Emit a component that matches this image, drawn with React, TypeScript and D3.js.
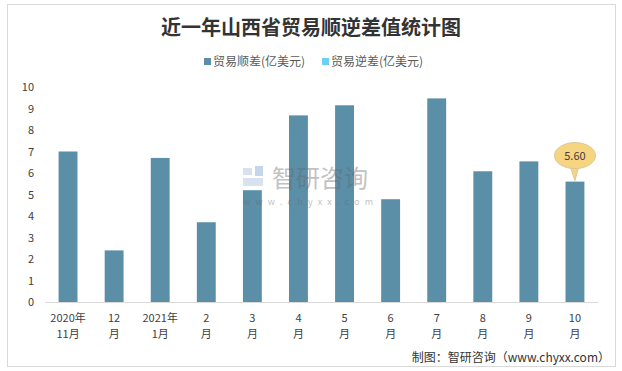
import React, { useEffect, useRef } from 'react';
import * as d3 from 'd3';

const months = ['2020年\n11月', '12\n月', '2021年\n1月', '2\n月', '3\n月', '4\n月', '5\n月', '6\n月', '7\n月', '8\n月', '9\n月', '10\n月'];
const surplus = [7.0, 2.4, 6.7, 3.71, 5.2, 8.68, 9.15, 4.78, 9.47, 6.08, 6.54, 5.6];
const yTicks = [0, 1, 2, 3, 4, 5, 6, 7, 8, 9, 10];
const legendItems = ['贸易顺差(亿美元)', '贸易逆差(亿美元)'];
const legendColors = ['#5B8FA8', '#6DCFF6'];

const FONT = '"Noto Sans CJK SC", "Noto Sans", sans-serif';

const App: React.FC = () => {
  const svgRef = useRef<SVGSVGElement>(null);

  useEffect(() => {
    if (!svgRef.current) return;
    const svg = d3.select(svgRef.current);
    svg.selectAll('*').remove();

    const width = 622;
    const height = 371;
    const margin = { top: 87, right: 24, bottom: 69, left: 45 };

    // frame
    svg.append('rect')
      .attr('x', 7.5).attr('y', 4.5)
      .attr('width', 608).attr('height', 362)
      .attr('fill', '#fff')
      .attr('stroke', '#d9d9d9');

    svg.append('text')
      .attr('x', 311).attr('y', 35)
      .attr('text-anchor', 'middle')
      .attr('font-family', FONT)
      .attr('font-weight', 'bold')
      .attr('font-size', 20)
      .attr('fill', '#333')
      .text('近一年山西省贸易顺逆差值统计图');

    // legend
    const legendX = [204, 322];
    legendItems.forEach((name, i) => {
      svg.append('rect')
        .attr('x', legendX[i]).attr('y', 58)
        .attr('width', 7).attr('height', 7)
        .attr('fill', legendColors[i]);
      svg.append('text')
        .attr('x', legendX[i] + 9).attr('y', 66)
        .attr('font-family', FONT)
        .attr('font-size', 12)
        .attr('fill', '#595959')
        .text(name);
    });

    const x = d3.scaleBand<number>()
      .domain(d3.range(months.length))
      .range([margin.left, width - margin.right])
      .paddingInner(0.59)
      .paddingOuter(0.295);

    const y = d3.scaleLinear()
      .domain([0, 10])
      .range([height - margin.bottom, margin.top]);

    svg.append('g')
      .selectAll('rect')
      .data(surplus)
      .join('rect')
      .attr('x', (_, i) => x(i)!)
      .attr('y', d => y(d))
      .attr('width', x.bandwidth())
      .attr('height', d => y(0) - y(d))
      .attr('fill', '#5B8FA8');

    // watermark, drawn over the bars
    const wm = svg.append('g').attr('opacity', 0.4);
    wm.append('rect').attr('x', 243).attr('y', 168).attr('width', 9).attr('height', 7).attr('fill', '#9fb8d6');
    wm.append('rect').attr('x', 243).attr('y', 178).attr('width', 20).attr('height', 8).attr('fill', '#9fb8d6');
    wm.append('rect').attr('x', 255).attr('y', 166).attr('width', 8).attr('height', 10).attr('fill', '#6f9acb');
    wm.append('text')
      .attr('x', 272).attr('y', 187)
      .attr('font-family', FONT)
      .attr('font-size', 24)
      .attr('fill', '#666')
      .text('智研咨询');
    wm.append('text')
      .attr('x', 243).attr('y', 205)
      .attr('font-family', FONT)
      .attr('font-size', 9)
      .attr('letter-spacing', 5.2)
      .attr('fill', '#666')
      .text('www.chyxx.com');

    // x axis line
    svg.append('line')
      .attr('x1', margin.left).attr('x2', width - margin.right + 0.5)
      .attr('y1', y(0) + 0.5).attr('y2', y(0) + 0.5)
      .attr('stroke', '#d9d9d9');

    yTicks.forEach(t => {
      svg.append('text')
        .attr('x', 34).attr('y', y(t) + 4)
        .attr('text-anchor', 'end')
        .attr('font-family', FONT)
        .attr('font-size', 11)
        .attr('fill', '#404040')
        .text(t);
    });

    months.forEach((m, i) => {
      const cx = x(i)! + x.bandwidth() / 2;
      m.split('\n').forEach((line, j) => {
        svg.append('text')
          .attr('x', cx).attr('y', 322 + j * 16)
          .attr('text-anchor', 'middle')
          .attr('font-family', FONT)
          .attr('font-size', 11)
          .attr('fill', '#404040')
          .text(line);
      });
    });

    // callout on last bar
    const last = surplus.length - 1;
    const lx = x(last)! + x.bandwidth() / 2;
    const ly = y(surplus[last]);
    const cy = ly - 26;
    svg.append('path')
      .attr('d', `M${lx - 5},${cy + 10} L${lx},${ly - 1} L${lx + 4},${cy + 10} Z`)
      .attr('fill', '#F7D580')
      .attr('stroke', '#d9c79a');
    svg.append('ellipse')
      .attr('cx', lx).attr('cy', cy)
      .attr('rx', 20.5).attr('ry', 13)
      .attr('fill', '#F7D580')
      .attr('stroke', '#d9c79a');
    svg.append('path')
      .attr('d', `M${lx - 4.5},${cy + 11} L${lx + 3.5},${cy + 11}`)
      .attr('stroke', '#F7D580')
      .attr('stroke-width', 2);
    svg.append('text')
      .attr('x', lx).attr('y', cy + 4)
      .attr('text-anchor', 'middle')
      .attr('font-family', FONT)
      .attr('font-size', 11)
      .attr('fill', '#404040')
      .text(surplus[last].toFixed(2));

    svg.append('text')
      .attr('x', 610).attr('y', 362)
      .attr('text-anchor', 'end')
      .attr('font-family', FONT)
      .attr('font-size', 12)
      .attr('fill', '#333')
      .text('制图：智研咨询（www.chyxx.com）');
  }, []);

  return (
    <svg ref={svgRef} width={622} height={371} style={{ position: 'absolute', left: 0, top: 0 }} />
  );
};

export default App;
